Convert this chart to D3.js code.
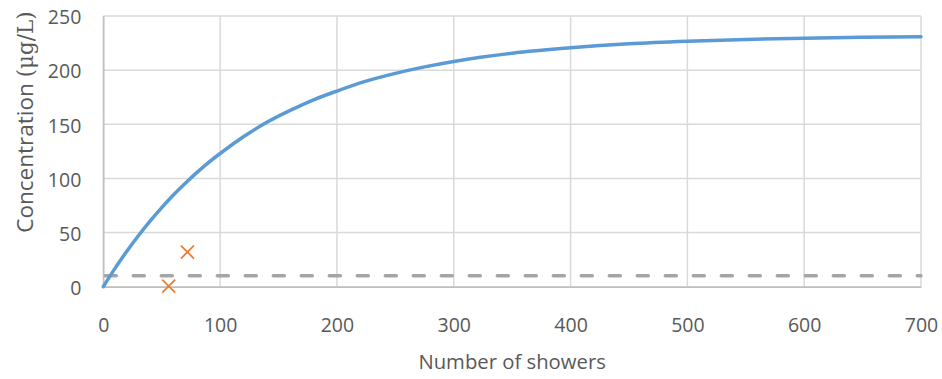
<!DOCTYPE html>
<html><head><meta charset="utf-8">
<script src="https://cdn.jsdelivr.net/npm/d3@7"></script>
<style>body{margin:0;background:#fff}svg{display:block}</style>
</head><body>
<script>
// Data
const curveShowers = [0,10,20,30,40,50,60,70,80,90,100,120,140,160,180,200,225,250,275,300,350,400,450,500,550,600,650,700];
const curveConc    = [0,16.9,32.6,47.1,60.6,73.1,84.7,95.4,105.4,114.6,123,138.5,151.8,162.8,172.6,180.7,189.8,197,203,208,215.6,220.6,224.3,226.7,228.4,229.5,230.3,230.8];
const obsShowers = [72, 56];
const obsConc    = [32, 0.5];
const limitShowers = [0, 700];
const limitConc    = [10, 10];
const xTicks = [0,100,200,300,400,500,600,700];
const yTicks = [0,50,100,150,200,250];

const W = 942, H = 379;
const m = {l:103.3, r:21, t:16, b:92.3};
const svg = d3.select("body").append("svg").attr("width",W).attr("height",H);
const x = d3.scaleLinear().domain([0,700]).range([m.l, W-m.r]);
const y = d3.scaleLinear().domain([0,250]).range([H-m.b, m.t]);
const font = "'Open Sans', sans-serif";

// gridlines
svg.append("g").selectAll("line").data(yTicks).join("line")
  .attr("x1",x(0)).attr("x2",x(700)).attr("y1",d=>y(d)).attr("y2",d=>y(d))
  .attr("stroke","#D9D9D9").attr("stroke-width",1.5);
svg.append("g").selectAll("line").data(xTicks).join("line")
  .attr("y1",y(0)).attr("y2",y(250)).attr("x1",d=>x(d)).attr("x2",d=>x(d))
  .attr("stroke","#D9D9D9").attr("stroke-width",1.5);

// axes
const gx = svg.append("g").attr("transform",`translate(0,${y(0)})`)
  .call(d3.axisBottom(x).tickValues(xTicks).tickSize(0).tickPadding(31).tickFormat(d3.format("d")));
const gy = svg.append("g").attr("transform",`translate(${x(0)},0)`)
  .call(d3.axisLeft(y).tickValues(yTicks).tickSize(0).tickPadding(22).tickFormat(d3.format("d")));
[gx,gy].forEach(g=>{
  g.select(".domain").attr("stroke","#BFBFBF").attr("stroke-width",1.5);
  g.selectAll("text").attr("font-family",font).attr("font-size",19.5).attr("fill","#595959");
});
gy.selectAll("text").attr("dy","0.4em");

// limit dashed line
const line = d3.line().x(d=>x(d[0])).y(d=>y(d[1]));
svg.append("path").datum(limitShowers.map((s,i)=>[s,limitConc[i]]))
  .attr("d",line).attr("fill","none").attr("stroke","#A5A5A5")
  .attr("stroke-width",3.5).attr("stroke-dasharray","11,17").attr("stroke-linecap","round")
  .attr("stroke-dashoffset",-2);

// model curve
svg.append("path").datum(curveShowers.map((s,i)=>[s,curveConc[i]]))
  .attr("d",d3.line().curve(d3.curveMonotoneX).x(d=>x(d[0])).y(d=>y(d[1])))
  .attr("fill","none").attr("stroke","#5B9BD5").attr("stroke-width",3.5).attr("stroke-linecap","round");

// observed markers (X)
const s = 6.5;
svg.append("g").selectAll("path").data(obsShowers.map((v,i)=>[v,obsConc[i]])).join("path")
  .attr("d",d=>{const cx=x(d[0]), cy=y(d[1]);
    return `M${cx-s},${cy-s}L${cx+s},${cy+s}M${cx-s},${cy+s}L${cx+s},${cy-s}`;})
  .attr("stroke","#ED7D31").attr("stroke-width",1.8).attr("fill","none");

// axis titles
svg.append("text").attr("x",(x(0)+x(700))/2).attr("y",369).attr("text-anchor","middle")
  .attr("font-family",font).attr("font-size",20.3).attr("fill","#595959").text("Number of showers");
const yt = svg.append("text").attr("transform","translate(33,122) rotate(-90)").attr("text-anchor","middle")
  .attr("font-family",font).attr("font-size",22.5).attr("fill","#595959");
yt.append("tspan").text("Concentration ");
yt.append("tspan").attr("font-family","'DejaVu Serif', 'Liberation Serif', serif").attr("font-size",21.5).text("(μg/L)");
</script>
</body></html>
